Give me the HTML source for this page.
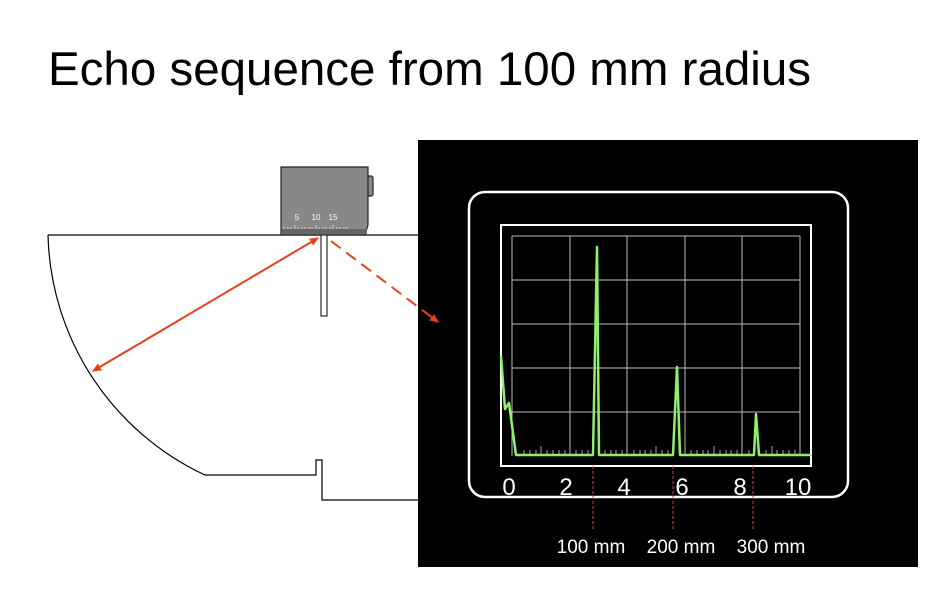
<!DOCTYPE html>
<html><head><meta charset="utf-8"><style>
html,body{margin:0;padding:0;background:#fff;width:936px;height:606px;overflow:hidden}
svg{display:block;font-family:"Liberation Sans",sans-serif}
</style></head><body>
<svg width="936" height="606" viewBox="0 0 936 606">
<defs>
<marker id="ah" markerWidth="10" markerHeight="10" refX="8" refY="5" orient="auto" markerUnits="userSpaceOnUse"><path d="M0,1 L9,5 L0,9 Z" fill="#e8401c"/></marker>
<marker id="ahs" markerWidth="10" markerHeight="10" refX="1" refY="5" orient="auto" markerUnits="userSpaceOnUse"><path d="M9,1 L0,5 L9,9 Z" fill="#e8401c"/></marker>
</defs>
<text x="48" y="85" font-size="47.5" fill="#000">Echo sequence from 100 mm radius</text>
<!-- specimen -->
<path d="M48,235 L418,235 M418,500 L322,500 L322,460 L316,460 L316,475 L205,475 A272,272 0 0 1 48,235" fill="none" stroke="#000" stroke-width="1.2"/>
<rect x="321" y="235" width="6" height="81" fill="#fff" stroke="#000" stroke-width="1"/>
<!-- probe -->
<rect x="366" y="176" width="7" height="20" rx="2" fill="#888" stroke="#222" stroke-width="1.2"/>
<path d="M281,167 L368,167 L368,225 L365,235 L281,235 Z" fill="#888" stroke="#222" stroke-width="1.2"/>
<rect x="282" y="229" width="85" height="5" fill="#666"/>
<g fill="#fff" font-size="8"><text x="297" y="220" text-anchor="middle">5</text><text x="316" y="220" text-anchor="middle">10</text><text x="333" y="220" text-anchor="middle">15</text></g>
<path d="M284,229v-2M288,229v-2M291,229v-2M295,229v-4M298,229v-2M302,229v-2M305,229v-2M309,229v-2M312,229v-2M316,229v-4M319,229v-2M323,229v-2M326,229v-2M330,229v-2M333,229v-4M337,229v-2M340,229v-2M344,229v-2M347,229v-2" stroke="#fff" stroke-width="0.6"/>
<!-- screen -->
<rect x="418" y="140" width="500" height="427" fill="#000"/>
<rect x="469" y="192" width="379" height="305" rx="16" fill="none" stroke="#fff" stroke-width="2.5"/>
<rect x="501" y="225" width="310" height="241" fill="none" stroke="#fff" stroke-width="2"/>
<g stroke="#bbb" stroke-width="1">
<path d="M512,236H800M512,280H800M512,324H800M512,368H800M512,412H800M512,236V456M570,236V456M627,236V456M685,236V456M742,236V456M800,236V456"/>
</g>
<g stroke="#ccc" stroke-width="0.8">
<path d="M524,455v-5M530,455v-5M536,455v-5M541,455v-9M547,455v-5M553,455v-5M559,455v-5M565,455v-5M576,455v-5M582,455v-5M588,455v-5M605,455v-5M611,455v-5M616,455v-5M622,455v-5M634,455v-5M640,455v-5M645,455v-5M651,455v-5M656,455v-9M662,455v-5M668,455v-5M691,455v-5M697,455v-5M703,455v-5M708,455v-5M714,455v-9M720,455v-5M726,455v-5M731,455v-5M737,455v-5M749,455v-5M766,455v-5M772,455v-9M777,455v-5M783,455v-5M789,455v-5M795,455v-5"/>
</g>
<polyline points="501,356 505,409 509,403 516,455 593,455 597,247 599,455 673,455 677,367 680,455 754,455 756,414 759,455 811,455" fill="none" stroke="#8cf26a" stroke-width="2.5" stroke-linejoin="round"/>
<g fill="#fff" font-size="24" text-anchor="middle">
<text x="509" y="495">0</text><text x="566" y="495">2</text><text x="624" y="495">4</text><text x="682" y="495">6</text><text x="740" y="495">8</text><text x="798" y="495">10</text>
</g>
<g stroke="#c8502a" stroke-width="1" stroke-dasharray="3,2"><path d="M593,466V530M673,466V530M753,466V530"/></g>
<g fill="#fff" font-size="19" text-anchor="middle">
<text x="591" y="553">100 mm</text><text x="681" y="553">200 mm</text><text x="771" y="553">300 mm</text>
</g>
<!-- arrows -->
<line x1="318" y1="238" x2="93" y2="371" stroke="#e8401c" stroke-width="2" marker-end="url(#ah)" marker-start="url(#ahs)"/>
<line x1="331" y1="241" x2="438" y2="322" stroke="#e8401c" stroke-width="2" stroke-dasharray="12,7" marker-end="url(#ah)"/>
</svg>
</body></html>
